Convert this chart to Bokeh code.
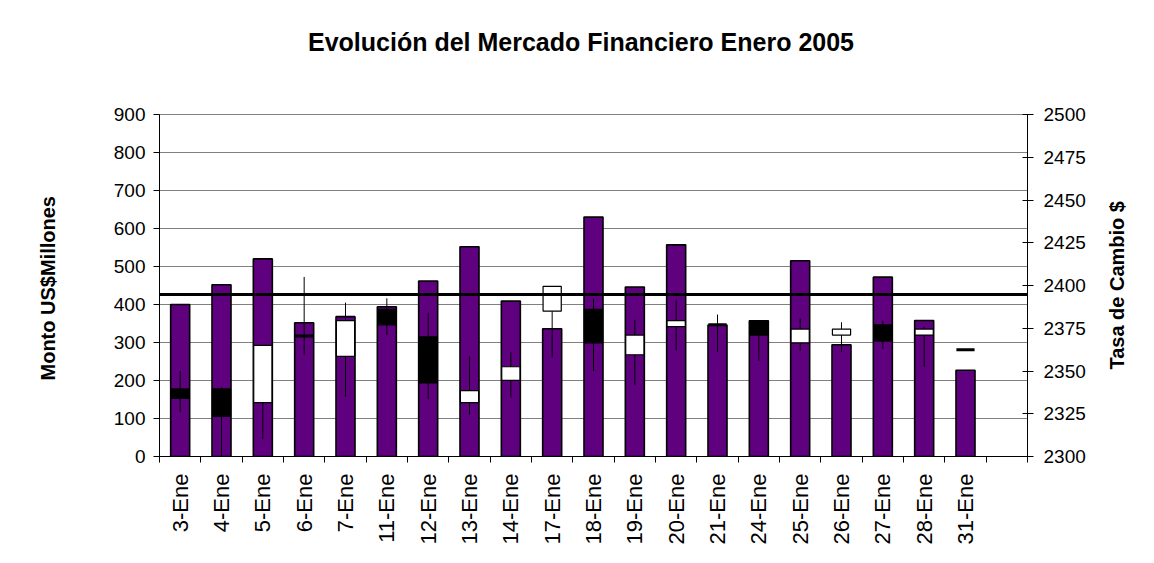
import math
from bokeh.plotting import figure
from bokeh.models import Range1d, LinearAxis, FixedTicker, Span, ColumnDataSource, Div
from bokeh.layouts import column, row
from bokeh.embed import file_html
from bokeh.resources import INLINE

# ---- data ----
fechas = ["3-Ene", "4-Ene", "5-Ene", "6-Ene", "7-Ene", "11-Ene", "12-Ene", "13-Ene",
          "14-Ene", "17-Ene", "18-Ene", "19-Ene", "20-Ene", "21-Ene", "24-Ene", "25-Ene",
          "26-Ene", "27-Ene", "28-Ene", "31-Ene"]
monto = [400, 452, 520, 352, 368, 394, 462, 552, 409, 336,
         630, 446, 557, 346, 357, 515, 294, 472, 358, 227]
apertura = [2339.5, 2339.5, 2331.5, 2370.5, 2358.5, 2386.0, 2370.0, 2331.5, 2344.5, 2385.0,
            2386.0, 2359.5, 2376.0, 2377.0, 2379.5, 2366.5, 2371.0, 2377.0, 2371.0, 2362.5]
maximo = [2350.0, 2340.5, 2365.0, 2405.0, 2390.0, 2392.5, 2384.0, 2358.5, 2361.0, 2399.5,
          2392.5, 2380.0, 2391.5, 2383.0, 2379.5, 2381.0, 2378.5, 2379.5, 2376.0, 2362.5]
minimo = [2326.0, 2300.0, 2310.0, 2359.5, 2335.0, 2371.0, 2333.5, 2324.5, 2334.5, 2358.0,
          2350.0, 2342.0, 2362.0, 2361.0, 2356.0, 2362.0, 2361.0, 2363.0, 2352.5, 2362.5]
cierre = [2334.0, 2323.5, 2365.0, 2370.5, 2379.5, 2377.0, 2343.0, 2338.5, 2352.5, 2399.5,
          2366.5, 2371.0, 2379.5, 2377.0, 2371.0, 2374.5, 2374.5, 2367.5, 2374.5, 2362.5]
promedio_monto = 426
ticks_monto = [0, 100, 200, 300, 400, 500, 600, 700, 800, 900]
ticks_tasa = [2300, 2325, 2350, 2375, 2400, 2425, 2450, 2475, 2500]

titulo = "Evolución del Mercado Financiero Enero 2005"
titulo_izq = "Monto  US$Millones"
titulo_der = "Tasa de Cambio $"

FONT = "Liberation Sans"
PURPLE = "#5F007F"

n = len(fechas)
xs = list(range(1, n + 1))
slot_edges = [i + 0.5 for i in range(0, n + 2)]

# ---- title (HTML, above the plot) ----
title_div = Div(
    text=(f'<div style="box-sizing:border-box; width:1150px; padding-left:12px; '
          f'padding-top:28px; line-height:28px; text-align:center; color:black; '
          f'font-family:\'{FONT}\'; font-size:25px; font-weight:bold;">{titulo}</div>'),
    width=1150, height=70, margin=0)

p = figure(width=1100, height=488, output_backend="svg", toolbar_location=None,
           x_range=Range1d(0.5, n + 1.5), y_range=Range1d(0, 900),
           min_border_left=159, min_border_right=73, min_border_top=44, min_border_bottom=102,
           background_fill_color="white", border_fill_color="white", margin=0)

p.extra_y_ranges = {"tasa": Range1d(2300, 2500)}

p.outline_line_color = "#808080"
p.outline_line_width = 1

# grid
p.xgrid.visible = False
p.ygrid.ticker = FixedTicker(ticks=ticks_monto)
p.ygrid.grid_line_color = "#808080"
p.ygrid.grid_line_width = 1

# x axis
xa = p.xaxis[0]
xa.ticker = FixedTicker(ticks=xs, minor_ticks=slot_edges)
xa.major_label_overrides = {x: f for x, f in zip(xs, fechas)}
xa.major_label_orientation = math.pi / 2
xa.major_tick_in = 0
xa.major_tick_out = 0
xa.minor_tick_in = 0
xa.minor_tick_out = 6
xa.minor_tick_line_color = "black"
xa.axis_line_color = "black"
xa.major_label_text_font = FONT
xa.major_label_text_font_size = "22px"
xa.major_label_text_color = "black"
xa.major_label_standoff = 11

# left axis
ya = p.yaxis[0]
ya.ticker = FixedTicker(ticks=ticks_monto)
ya.axis_label = titulo_izq
ya.axis_label_text_font = FONT
ya.axis_label_text_font_size = "20px"
ya.axis_label_text_font_style = "bold"
ya.axis_label_text_color = "black"
ya.axis_label_standoff = 52
ya.major_label_text_font = FONT
ya.major_label_text_font_size = "19px"
ya.major_label_text_color = "black"
ya.major_tick_in = 0
ya.major_tick_out = 6
ya.minor_tick_line_color = None
ya.major_label_standoff = 8
ya.axis_line_color = "black"

# right axis
ra = LinearAxis(y_range_name="tasa", ticker=FixedTicker(ticks=ticks_tasa))
ra.major_label_text_font = FONT
ra.major_label_text_font_size = "19px"
ra.major_label_text_color = "black"
ra.major_tick_in = 5
ra.major_tick_out = 6
ra.minor_tick_line_color = None
ra.major_label_standoff = 10
ra.axis_line_color = "black"
p.add_layout(ra, "right")

# volume bars
p.vbar(x=xs, top=monto, bottom=0, width=0.46, fill_color=PURPLE,
       line_color="black", line_width=1.6)

# average line
p.add_layout(Span(location=promedio_monto, dimension="width",
                  line_color="black", line_width=3))

# candlesticks
p.segment(x0=xs, y0=minimo, x1=xs, y1=maximo, y_range_name="tasa",
          line_color="black", line_width=1)

body = {"x": [], "top": [], "bottom": [], "color": []}
doji = {"x": [], "y": []}
for x, o, c in zip(xs, apertura, cierre):
    if o == c:
        doji["x"].append(x)
        doji["y"].append(o)
    else:
        body["x"].append(x)
        body["top"].append(max(o, c))
        body["bottom"].append(min(o, c))
        body["color"].append("white" if c > o else "black")

p.vbar(x="x", top="top", bottom="bottom", width=0.44, fill_color="color",
       line_color="black", line_width=1.2, y_range_name="tasa",
       source=ColumnDataSource(body))
p.vbar(x="x", top="y", bottom="y", width=0.44, fill_color="black",
       line_color="black", line_width=3, y_range_name="tasa",
       source=ColumnDataSource(doji))

# ---- right axis title (HTML, reads bottom-to-top) ----
right_div = Div(
    text=(f'<div style="width:34px; height:430px; display:flex; align-items:center; '
          f'justify-content:center;"><span style="writing-mode:vertical-rl; '
          f'transform:rotate(180deg); white-space:nowrap; color:black; '
          f'font-family:\'{FONT}\'; font-size:20px; font-weight:bold;">{titulo_der}</span></div>'),
    width=50, height=488, margin=0)

layout = column(title_div, row(p, right_div, spacing=0, margin=0), spacing=0, margin=0)

open("out.html", "w").write(file_html(layout, INLINE))
